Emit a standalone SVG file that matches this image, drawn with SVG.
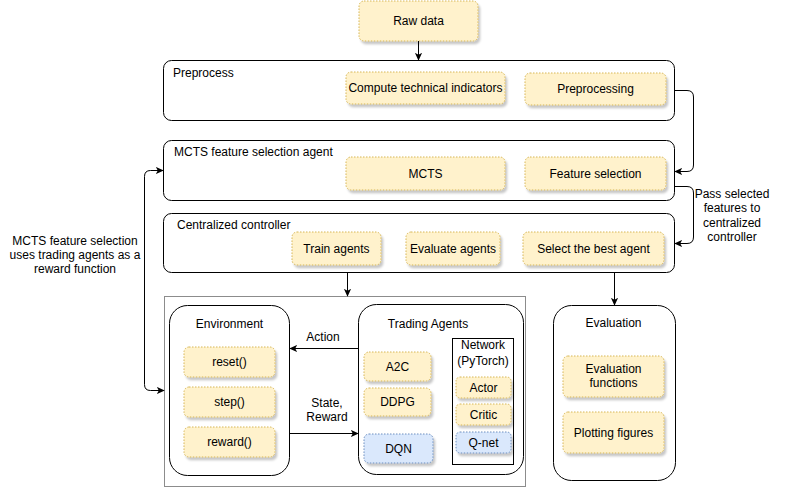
<svg xmlns="http://www.w3.org/2000/svg" width="787" height="489" viewBox="0 0 787 489">
<defs>
<filter id="sh" x="-20%" y="-20%" width="150%" height="160%">
<feDropShadow dx="2" dy="3" stdDeviation="1.2" flood-color="#000" flood-opacity="0.22"/>
</filter>
<marker id="arr" viewBox="0 0 10 10" refX="9" refY="5" markerWidth="8" markerHeight="8" markerUnits="userSpaceOnUse" orient="auto-start-reverse">
<path d="M0,0.5 L10,5 L0,9.5 L2.5,5 Z" fill="#000"/>
</marker>
</defs>
<style>
text{font-family:"Liberation Sans",Arial,sans-serif;font-size:12px;fill:#000}
.c{text-anchor:middle}
.box{fill:#fff;stroke:#000;stroke-width:1}
.y{fill:#fff2cc;stroke:#d6b656;stroke-width:1;stroke-dasharray:1.5 1.5;filter:url(#sh)}
.b{fill:#dae8fc;stroke:#6c8ebf;stroke-width:1;stroke-dasharray:1.5 1.5;filter:url(#sh)}
.e{fill:none;stroke:#000;stroke-width:1}
</style>
<rect width="787" height="489" fill="#fff"/>

<g id="raw-data"><rect class="y" x="359" y="1" width="119" height="40" rx="5"/><text class="c" x="418.5" y="25">Raw data</text></g>

<g id="preprocess"><rect class="box" x="163.5" y="60.5" width="511" height="60" rx="8"/><text x="173" y="77">Preprocess</text></g>
<g id="compute-indicators"><rect class="y" x="346" y="72" width="159" height="32" rx="5"/><text class="c" x="425.5" y="92">Compute technical indicators</text></g>
<g id="preprocessing"><rect class="y" x="525" y="73" width="141" height="32" rx="5"/><text class="c" x="595.5" y="93">Preprocessing</text></g>

<g id="mcts-agent"><rect class="box" x="163.5" y="140.5" width="511" height="60" rx="8"/><text x="174" y="156">MCTS feature selection agent</text></g>
<g id="mcts"><rect class="y" x="346" y="157" width="159" height="33" rx="5"/><text class="c" x="425.5" y="177.5">MCTS</text></g>
<g id="feature-selection"><rect class="y" x="525" y="157" width="141" height="33" rx="5"/><text class="c" x="595.5" y="177.5">Feature selection</text></g>

<g id="controller"><rect class="box" x="163.5" y="213.5" width="511" height="59" rx="8"/><text x="177" y="229">Centralized controller</text></g>
<g id="train-agents"><rect class="y" x="292" y="232" width="89" height="33" rx="5"/><text class="c" x="336.5" y="252.5">Train agents</text></g>
<g id="evaluate-agents"><rect class="y" x="406" y="232" width="94" height="33" rx="5"/><text class="c" x="453" y="252.5">Evaluate agents</text></g>
<g id="select-best"><rect class="y" x="523" y="232" width="141" height="33" rx="5"/><text class="c" x="593.5" y="252.5">Select the best agent</text></g>

<g id="simulation"><rect x="164.5" y="296.5" width="361" height="190" fill="#fff" stroke="#8c8c8c" stroke-width="1"/></g>

<g id="environment"><rect class="box" x="169.5" y="305.5" width="120" height="170" rx="18"/><text class="c" x="229.5" y="328">Environment</text></g>
<g id="reset"><rect class="y" x="184" y="347" width="91" height="30" rx="5"/><text class="c" x="229.5" y="366">reset()</text></g>
<g id="step"><rect class="y" x="184" y="387" width="91" height="30" rx="5"/><text class="c" x="229.5" y="406">step()</text></g>
<g id="reward"><rect class="y" x="184" y="427" width="91" height="30" rx="5"/><text class="c" x="229.5" y="446">reward()</text></g>

<g id="trading-agents"><rect class="box" x="358.5" y="304.5" width="165" height="170" rx="18"/><text class="c" x="428" y="328">Trading Agents</text></g>
<g id="a2c"><rect class="y" x="364" y="352" width="67" height="29" rx="5"/><text class="c" x="397.5" y="371">A2C</text></g>
<g id="ddpg"><rect class="y" x="364" y="388" width="67" height="28" rx="5"/><text class="c" x="397.5" y="406">DDPG</text></g>
<g id="dqn"><rect class="b" x="364" y="434" width="69" height="29" rx="5"/><text class="c" x="398.5" y="453">DQN</text></g>

<g id="network"><rect x="452.5" y="338.5" width="61" height="126" fill="#fff" stroke="#000" stroke-width="1"/><text class="c" x="483" y="349">Network</text><text class="c" x="483" y="365">(PyTorch)</text></g>
<g id="actor"><rect class="y" x="456" y="377" width="55" height="21" rx="4"/><text class="c" x="483.5" y="392">Actor</text></g>
<g id="critic"><rect class="y" x="456" y="404" width="55" height="21" rx="4"/><text class="c" x="483.5" y="419">Critic</text></g>
<g id="qnet"><rect class="b" x="456" y="432" width="55" height="21" rx="4"/><text class="c" x="483.5" y="447">Q-net</text></g>

<g id="evaluation"><rect class="box" x="553.5" y="305.5" width="122" height="175" rx="18"/><text class="c" x="613.5" y="327">Evaluation</text></g>
<g id="eval-functions"><rect class="y" x="563" y="356" width="101" height="41" rx="5"/><text class="c" x="613.5" y="373">Evaluation</text><text class="c" x="613.5" y="387">functions</text></g>
<g id="plotting"><rect class="y" x="563" y="412" width="101" height="41" rx="5"/><text class="c" x="613.5" y="437">Plotting figures</text></g>

<g id="connectors">
<path class="e" d="M418.5 41 V60" marker-end="url(#arr)"/>
<path class="e" d="M674.5 90.5 H687 Q693.5 90.5 693.5 97 V165 Q693.5 171.5 687 171.5 H675" marker-end="url(#arr)"/>
<path class="e" d="M674.5 186.5 H687 Q693.5 186.5 693.5 193 V237 Q693.5 243.5 687 243.5 H675" marker-end="url(#arr)"/>
<path class="e" d="M347.5 273 V296" marker-end="url(#arr)"/>
<path class="e" d="M614.5 273 V305" marker-end="url(#arr)"/>
<path class="e" d="M358 348.5 H290" marker-end="url(#arr)"/>
<path class="e" d="M290 433.5 H358" marker-end="url(#arr)"/>
<path class="e" d="M163 170.5 H150.5 Q144.5 170.5 144.5 176.5 V384.5 Q144.5 390.5 150.5 390.5 H164" marker-start="url(#arr)" marker-end="url(#arr)"/>
<text class="c" x="323" y="341">Action</text>
<text class="c" x="327" y="407">State,</text>
<text class="c" x="327" y="421">Reward</text>
<text class="c" x="732" y="198">Pass selected</text>
<text class="c" x="732" y="212">features to</text>
<text class="c" x="732" y="227">centralized</text>
<text class="c" x="732" y="241">controller</text>
<text class="c" x="75" y="245">MCTS feature selection</text>
<text class="c" x="75" y="259">uses trading agents as a</text>
<text class="c" x="75" y="273">reward function</text>
</g>
</svg>
